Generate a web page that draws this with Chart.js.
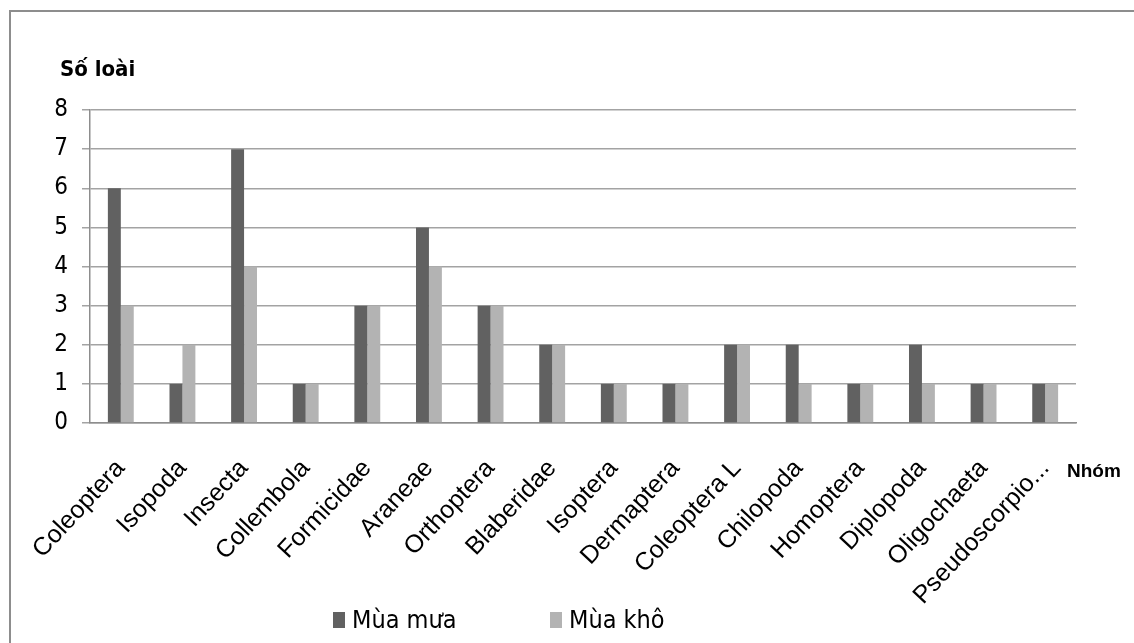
<!DOCTYPE html>
<html>
<head>
<meta charset="utf-8">
<script src="https://cdn.jsdelivr.net/npm/chart.js@4/dist/chart.umd.min.js"></script>
<style>
  html, body { margin: 0; padding: 0; background: #ffffff; }
  #wrap { position: relative; width: 1134px; height: 643px; overflow: hidden; }
  #frame { position: absolute; left: 9px; top: 10px; width: 1140px; height: 660px;
           border: 2px solid #8d8d8d; box-sizing: border-box; }
  #c { position: absolute; left: 0; top: 0; }
</style>
</head>
<body>
<div id="wrap">
  <div id="frame"></div>
  <canvas id="c" width="1134" height="643"></canvas>
</div>
<script>
// Số loài theo nhóm sinh vật, mùa mưa và mùa khô
const categories = ['Coleoptera', 'Isopoda', 'Insecta', 'Collembola', 'Formicidae', 'Araneae',
  'Orthoptera', 'Blaberidae', 'Isoptera', 'Dermaptera', 'Coleoptera L', 'Chilopoda',
  'Homoptera', 'Diplopoda', 'Oligochaeta', 'Pseudoscorpio...'];
const muaMua = [6, 1, 7, 1, 3, 5, 3, 2, 1, 1, 2, 2, 1, 2, 1, 1];
const muaKho = [3, 2, 4, 1, 3, 4, 3, 2, 1, 1, 2, 1, 1, 1, 1, 1];
const seriesNames = ['Mùa mưa', 'Mùa khô'];
const yTicks = [0, 1, 2, 3, 4, 5, 6, 7, 8];

const DARK = '#616161';
const LIGHT = '#b3b3b3';
const GRID = '#a3a3a3';
const SANS = '"Liberation Sans", Arial, sans-serif';
const NARROW = '"Liberation Sans Narrow", "DejaVu Sans Condensed", sans-serif';

// Axis titles and legend drawn on the canvas
const decorations = {
  id: 'decorations',
  afterDraw(chart) {
    const ctx = chart.ctx;
    const area = chart.chartArea;
    ctx.save();
    ctx.fillStyle = '#000';
    ctx.textBaseline = 'alphabetic';
    ctx.textAlign = 'left';
    ctx.font = 'bold 22px ' + NARROW;
    ctx.fillText('Số loài', 60, 76);
    ctx.font = 'bold 19px ' + SANS;
    ctx.fillText('Nhóm', area.right - 9, 477);

    // legend
    const items = chart.data.datasets;
    const xs = [333, 550];
    ctx.font = '25px ' + NARROW;
    items.forEach((ds, i) => {
      ctx.fillStyle = ds.backgroundColor;
      ctx.fillRect(xs[i], 612, 12, 16);
      ctx.fillStyle = '#000';
      ctx.fillText(ds.label, xs[i] + 19, 628);
    });
    ctx.restore();
  }
};

new Chart(document.getElementById('c'), {
  type: 'bar',
  data: {
    labels: categories,
    datasets: [
      { label: seriesNames[0], data: muaMua, backgroundColor: DARK },
      { label: seriesNames[1], data: muaKho, backgroundColor: LIGHT }
    ]
  },
  options: {
    responsive: false,
    animation: false,
    events: [],
    layout: { padding: { left: 0, right: 58, top: 110, bottom: 0 } },
    datasets: { bar: { categoryPercentage: 0.42, barPercentage: 1.0 } },
    plugins: {
      legend: { display: false },
      tooltip: { enabled: false },
      title: { display: false }
    },
    scales: {
      x: {
        grid: { display: false, drawTicks: false },
        border: { display: true, color: '#8d8d8d', width: 1.5 },
        ticks: {
          color: '#000',
          font: { family: SANS, size: 25 },
          minRotation: 47,
          maxRotation: 47,
          padding: 31,
          autoSkip: false
        },
        afterFit(scale) { scale.height = 643 - 423; }
      },
      y: {
        min: 0,
        max: 8,
        afterBuildTicks(scale) { scale.ticks = yTicks.map(v => ({ value: v })); },
        grid: { color: GRID, lineWidth: 1.5, tickLength: 8, drawTicks: true },
        border: { display: true, color: '#8d8d8d', width: 1.5 },
        ticks: {
          color: '#000',
          font: { family: NARROW, size: 24 },
          padding: 14
        },
        afterFit(scale) { scale.width = 90; }
      }
    }
  },
  plugins: [decorations]
});
</script>
</body>
</html>
